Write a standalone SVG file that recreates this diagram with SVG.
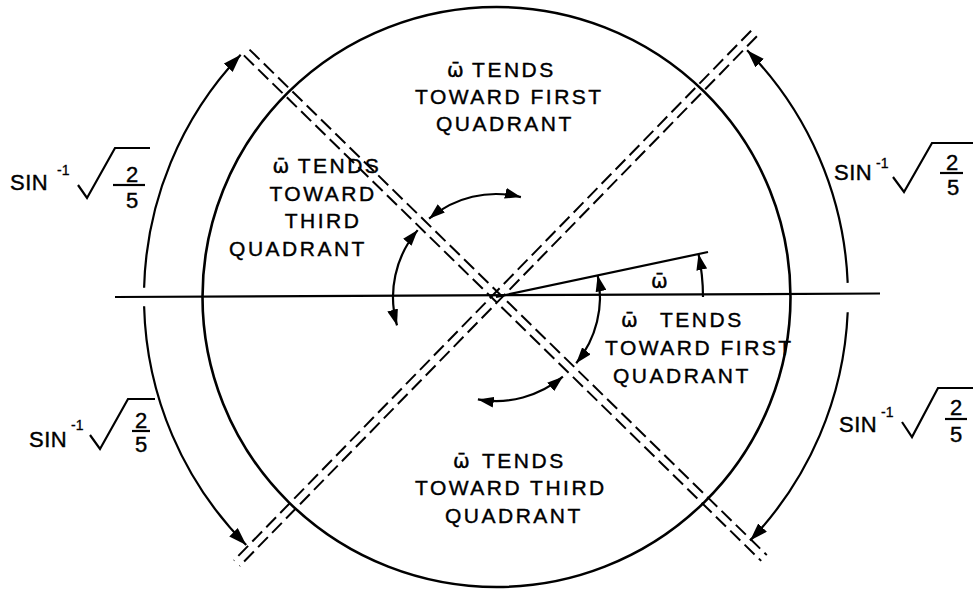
<svg xmlns="http://www.w3.org/2000/svg" width="973" height="592" viewBox="0 0 973 592">
<style>
  .ln{fill:none;stroke:#000;stroke-width:2.2}
  .circ{fill:none;stroke:#000;stroke-width:2.6}
  .dash{fill:none;stroke:#000;stroke-width:2;stroke-dasharray:14 6}
  .t{font-family:"Liberation Sans",Arial,sans-serif;font-size:21px;letter-spacing:2.5px;fill:#000;stroke:#000;stroke-width:0.4}
  .w{font-family:"DejaVu Sans",sans-serif;font-size:20px;letter-spacing:0}
  .s{font-family:"Liberation Sans",Arial,sans-serif;font-size:22px;letter-spacing:0.5px;fill:#000;stroke:#000;stroke-width:0.4}
  .sup{font-family:"Liberation Sans",Arial,sans-serif;font-size:14px;fill:#000;stroke:#000;stroke-width:0.3}
  .fr{font-family:"Liberation Sans",Arial,sans-serif;font-size:22px;fill:#000;text-anchor:middle;stroke:#000;stroke-width:0.4}
  .rad{fill:none;stroke:#000;stroke-width:2.2;stroke-linejoin:miter}
</style>
<defs>
  <marker id="ah" viewBox="0 0 18 12" refX="18" refY="6" markerWidth="18" markerHeight="12" markerUnits="userSpaceOnUse" orient="auto-start-reverse">
    <path d="M0,0 L18,6 L0,12 z" fill="#000"/>
  </marker>
  <marker id="ahs" viewBox="0 0 16 11" refX="16" refY="5.5" markerWidth="16" markerHeight="11" markerUnits="userSpaceOnUse" orient="auto-start-reverse">
    <path d="M0,0 L16,5.5 L0,11 z" fill="#000"/>
  </marker>
</defs>
<rect width="973" height="592" fill="#fff"/>

<g id="circle">
  <ellipse class="circ" cx="496.5" cy="297" rx="294" ry="290"/>
</g>

<g id="axes">
  <line class="ln" x1="115" y1="297" x2="880" y2="293.5"/>
  <line class="ln" x1="496" y1="297" x2="708" y2="252"/>
  <line class="dash" x1="249.5" y1="49.6" x2="766.8" y2="555.1"/>
  <line class="dash" x1="243.9" y1="55.4" x2="761.2" y2="560.9"/>
  <line class="dash" x1="756.9" y1="36.3" x2="239.6" y2="566.1"/>
  <line class="dash" x1="751.1" y1="30.7" x2="233.8" y2="560.5"/>
</g>

<g id="connectors">
  <path class="ln" d="M144.1,287.8 A352,352 0 0 1 240.7,54.7" marker-end="url(#ah)"/>
  <path class="ln" d="M144.1,306.2 A352,352 0 0 0 246.2,545" marker-end="url(#ah)"/>
  <path class="ln" d="M847.7,282.9 A352,352 0 0 0 747.1,50.3" marker-end="url(#ah)"/>
  <path class="ln" d="M847.7,312.3 A352,352 0 0 1 750.1,540.6" marker-end="url(#ah)"/>
  <path class="ln" d="M397,325.4 A103,103 0 0 1 417.7,230.1" marker-start="url(#ahs)" marker-end="url(#ahs)"/>
  <path class="ln" d="M429.1,218.7 A103,103 0 0 1 520.9,197.1" marker-start="url(#ahs)" marker-end="url(#ahs)"/>
  <path class="ln" d="M597.7,275.4 A104,104 0 0 1 576.2,363.2" marker-start="url(#ahs)" marker-end="url(#ahs)"/>
  <path class="ln" d="M562.9,376.7 A104,104 0 0 1 477.9,399.4" marker-start="url(#ahs)" marker-end="url(#ahs)"/>
  <path class="ln" d="M703,297 A207,207 0 0 0 698.5,254" marker-end="url(#ahs)"/>
</g>

<g id="label-top">
  <text class="t" x="447" y="77"><tspan class="w">ω̄</tspan> TENDS</text>
  <text class="t" x="415" y="104">TOWARD FIRST</text>
  <text class="t" x="436" y="131">QUADRANT</text>
</g>

<g id="label-left">
  <text class="t" x="327" y="173" text-anchor="middle"><tspan class="w">ω̄</tspan> TENDS</text>
  <text class="t" x="323" y="201" text-anchor="middle">TOWARD</text>
  <text class="t" x="323" y="228" text-anchor="middle">THIRD</text>
  <text class="t" x="298" y="256" text-anchor="middle">QUADRANT</text>
</g>

<g id="label-right">
  <text class="t" x="621" y="327"><tspan class="w">ω̄</tspan></text>
  <text class="t" x="660" y="327">TENDS</text>
  <text class="t" x="605" y="355">TOWARD FIRST</text>
  <text class="t" x="613" y="383">QUADRANT</text>
</g>

<g id="label-bottom">
  <text class="t" x="453" y="468"><tspan class="w">ω̄</tspan></text>
  <text class="t" x="482" y="468">TENDS</text>
  <text class="t" x="415" y="495">TOWARD THIRD</text>
  <text class="t" x="445" y="523">QUADRANT</text>
</g>

<g id="label-omega">
  <text class="t" x="651" y="288"><tspan class="w">ω̄</tspan></text>
</g>

<g id="angle-ul">
  <text class="s" x="10" y="190">SIN</text>
  <text class="sup" x="57" y="175">-1</text>
  <path class="rad" d="M78,185 L87,198 L115,148 L150,148"/>
  <text class="fr" x="132" y="182">2</text>
  <line class="ln" x1="113" y1="185" x2="145" y2="185"/>
  <text class="fr" x="132" y="208">5</text>
</g>

<g id="angle-ur">
  <text class="s" x="834" y="180">SIN</text>
  <text class="sup" x="876" y="168">-1</text>
  <path class="rad" d="M893,177 L904,192 L932,143 L973,143"/>
  <text class="fr" x="952" y="170">2</text>
  <line class="ln" x1="940" y1="173" x2="963" y2="173"/>
  <text class="fr" x="953" y="195">5</text>
</g>

<g id="angle-ll">
  <text class="s" x="29" y="447">SIN</text>
  <text class="sup" x="71" y="430">-1</text>
  <path class="rad" d="M90,435 L100,449 L128,399 L155,399"/>
  <text class="fr" x="141" y="428">2</text>
  <line class="ln" x1="132" y1="431" x2="150" y2="431"/>
  <text class="fr" x="141" y="452">5</text>
</g>

<g id="angle-lr">
  <text class="s" x="839" y="432">SIN</text>
  <text class="sup" x="881" y="417">-1</text>
  <path class="rad" d="M902,422 L912,437 L938,388 L973,388"/>
  <text class="fr" x="956" y="415">2</text>
  <line class="ln" x1="945" y1="419" x2="967" y2="419"/>
  <text class="fr" x="956" y="442">5</text>
</g>
</svg>
